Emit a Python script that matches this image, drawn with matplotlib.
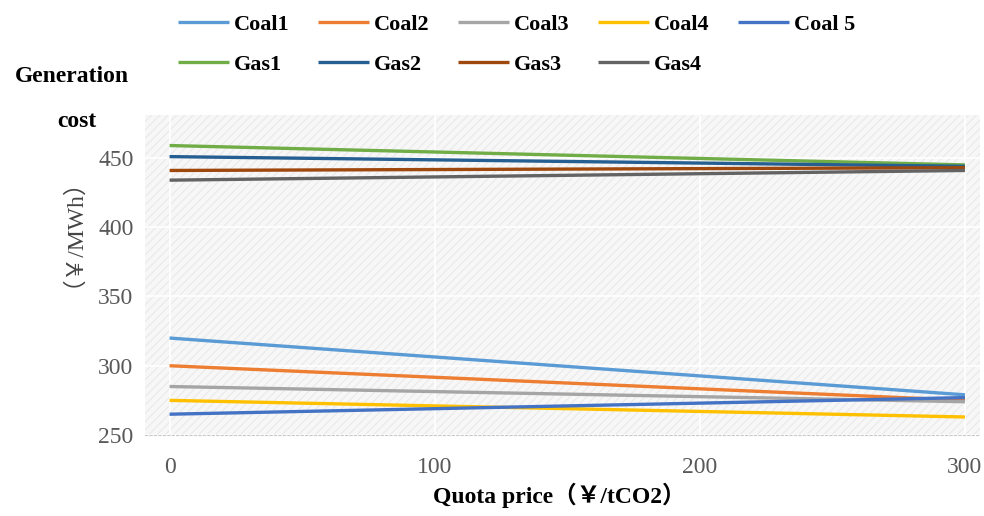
import matplotlib.pyplot as plt
from matplotlib.patches import Rectangle

# quota price endpoints
quota = [0, 300]

# generation cost (yuan/MWh) at quota = 0 and 300
coal1 = [320, 279]
coal2 = [300, 275]
coal3 = [285, 274]
coal4 = [275, 263]
coal5 = [265, 277]
gas1 = [459, 445]
gas2 = [451, 444]
gas3 = [441, 443]
gas4 = [434, 441]

names = ['Coal1', 'Coal2', 'Coal3', 'Coal4', 'Coal 5', 'Gas1', 'Gas2', 'Gas3', 'Gas4']
series = [coal1, coal2, coal3, coal4, coal5, gas1, gas2, gas3, gas4]
colors = ['#5B9BD5', '#ED7D31', '#A5A5A5', '#FFC000', '#4472C4',
          '#70AD47', '#255E91', '#9E480E', '#636363']

yticks = [250, 300, 350, 400, 450]
xticks = [0, 100, 200, 300]

serif = ['Liberation Serif', 'Noto Sans CJK SC']
plt.rcParams['hatch.linewidth'] = 0.8

fig = plt.figure(figsize=(9.84, 5.16), dpi=100)
ax = fig.add_axes([0.147, 0.157, 0.849, 0.62])
ax.patch.set_visible(False)
# textured plot area
ax.add_patch(Rectangle((0, 0), 1, 1, transform=ax.transAxes, facecolor='#f7f7f7',
                       edgecolor='#e9e9e9', lw=0, hatch='////', zorder=0))

lines = []
for name, vals, c in zip(names, series, colors):
    ln, = ax.plot(quota, vals, color=c, lw=2.4, label=name, solid_capstyle='butt', zorder=3)
    lines.append(ln)

ax.set_xlim(-9.4, 305.7)
ax.set_ylim(250, 481)
ax.set_xticks(xticks)
ax.set_yticks(yticks)
ax.grid(True, color='#ffffff', lw=1.2, zorder=1)
for s in ['top', 'right', 'left']:
    ax.spines[s].set_visible(False)
ax.spines['bottom'].set_color('#c8c8c8')
ax.spines['bottom'].set_linestyle((0, (2, 2)))
ax.tick_params(length=0, labelsize=17, labelcolor='#595959')
ax.tick_params(axis='x', pad=16)
ax.tick_params(axis='y', pad=8)
for lab in ax.get_xticklabels() + ax.get_yticklabels():
    lab.set_family(serif)

# legend: row 1 coal units, row 2 gas units
order = [0, 5, 1, 6, 2, 7, 3, 8, 4]
fig.legend([lines[i] for i in order], [names[i] for i in order], ncol=5,
           loc='upper left', bbox_to_anchor=(0.163, 1.006), frameon=False,
           handlelength=2.3, handletextpad=0.2, columnspacing=1.3, labelspacing=0.85,
           borderpad=0.3, prop={'family': serif, 'weight': 'bold', 'size': 16})

fig.text(0.073, 0.852, 'Generation', ha='center', va='center', fontsize=17,
         fontweight='bold', family=serif)
fig.text(0.078, 0.765, 'cost', ha='center', va='center', fontsize=17,
         fontweight='bold', family=serif)
fig.text(0.062, 0.573, '（￥/MWh）', ha='center', va='center', fontsize=17,
         rotation=90, color='#444444', family=serif)
fig.text(0.568, 0.04, 'Quota price（￥/tCO2）', ha='center', va='center', fontsize=17,
         fontweight='bold', family=serif)

fig.savefig('out.png', dpi=100)
